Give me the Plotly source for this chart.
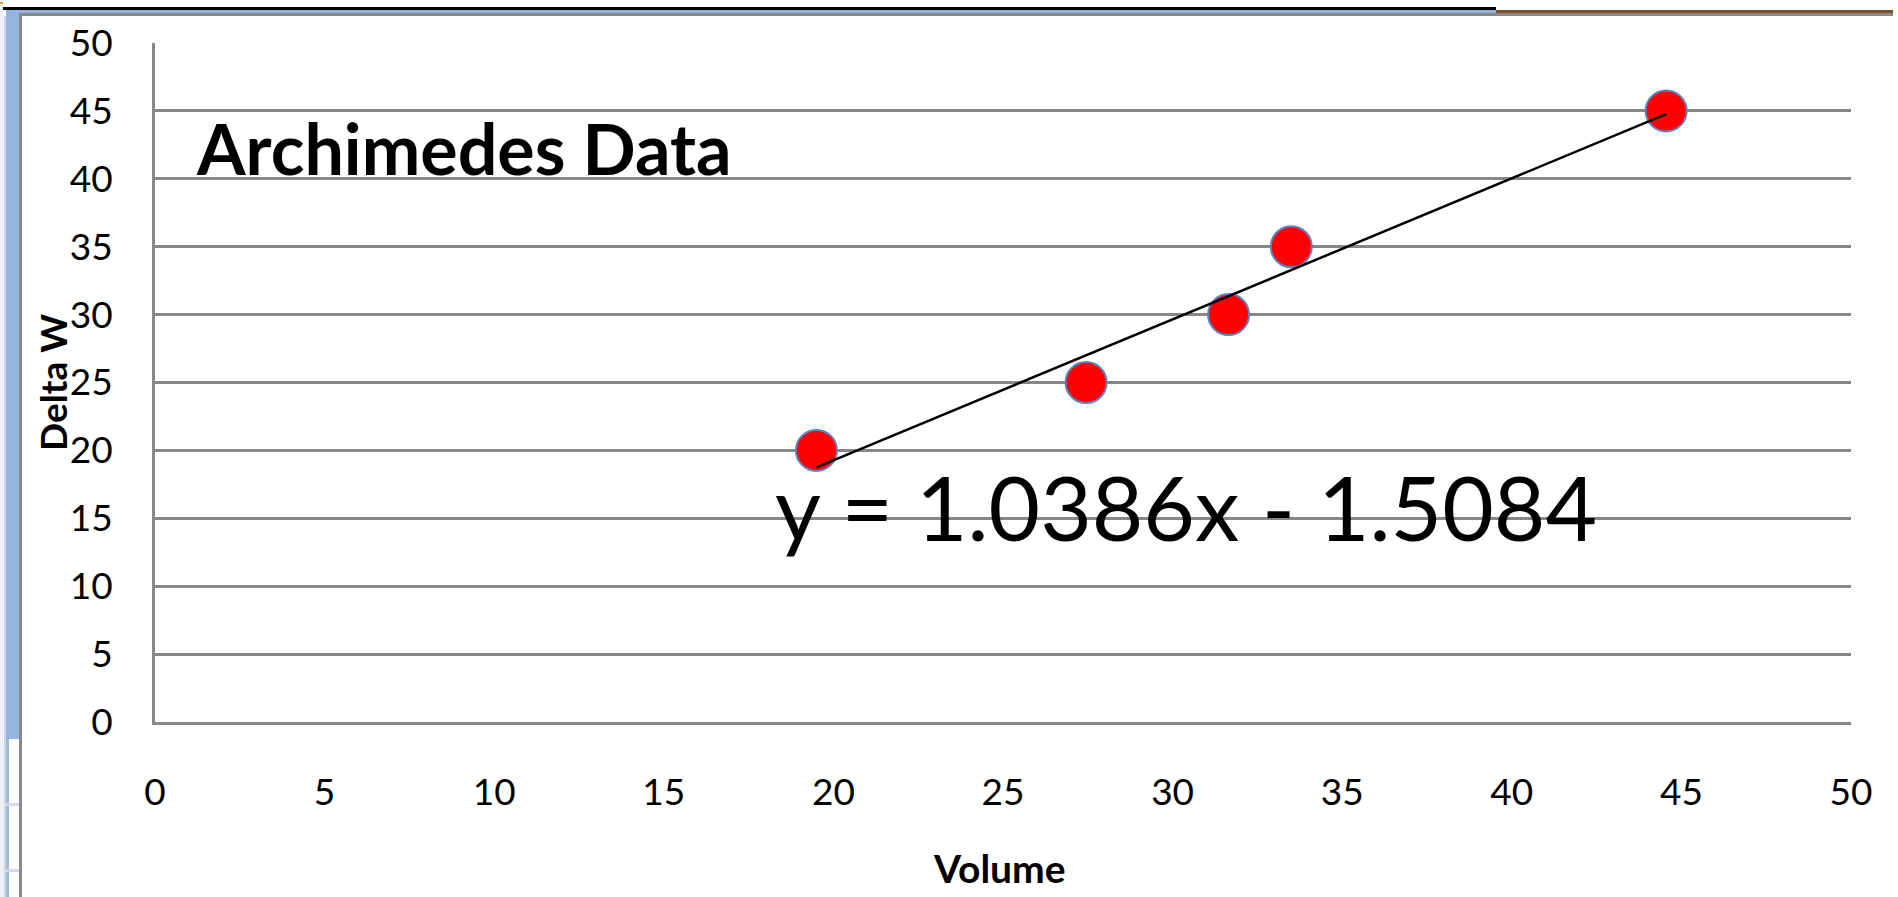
import plotly.graph_objects as go

# ---- data ----
volume = [19.5, 27.45, 31.65, 33.5, 44.55]
delta_w = [20, 25, 30, 35, 45]
slope = 1.0386
intercept = -1.5084
equation_text = "y = 1.0386x - 1.5084"
chart_title = "Archimedes Data"
x_title = "Volume"
y_title = "Delta W"
tick_vals = [0, 5, 10, 15, 20, 25, 30, 35, 40, 45, 50]

# ---- layout geometry (pixels) ----
W, H = 1898, 897
L, R, T, B = 155, 1851, 43, 722


def px(x):
    return (x - L) / (R - L)


def py(y):
    return (B - y) / (B - T)


x_fit = [min(volume), max(volume)]
y_fit = [slope * v + intercept for v in x_fit]

fig = go.Figure()
fig.add_trace(go.Scatter(
    x=volume, y=delta_w, mode="markers",
    marker=dict(size=41, color="#FF0000", line=dict(color="#5B84C0", width=2)),
    showlegend=False, hoverinfo="x+y"))
fig.add_trace(go.Scatter(
    x=x_fit, y=y_fit, mode="lines",
    line=dict(color="#000000", width=2.5),
    showlegend=False, hoverinfo="skip"))

font_main = "Lato, 'Open Sans', sans-serif"
grid_col = "#878787"

fig.update_xaxes(range=[0, 50], tickvals=tick_vals, showgrid=False, zeroline=False,
                 showline=True, linecolor=grid_col, linewidth=3, ticks="",
                 ticklabelstandoff=36,
                 tickfont=dict(family=font_main, size=37, color="#000000"))
fig.update_yaxes(range=[0, 50], tickvals=tick_vals, showgrid=True, gridcolor=grid_col,
                 gridwidth=3, zeroline=False, showline=True, linecolor=grid_col,
                 linewidth=3, ticks="", ticklabelstandoff=32,
                 tickfont=dict(family=font_main, size=37, color="#000000"))

annotations = [
    dict(x=px(194), y=py(148), xref="paper", yref="paper", text="<b>" + chart_title + "</b>",
         showarrow=False, xanchor="left", yanchor="middle",
         font=dict(family=font_main, size=70, color="#000000")),
    dict(x=px(773), y=py(506), xref="paper", yref="paper", text=equation_text,
         showarrow=False, xanchor="left", yanchor="middle",
         font=dict(family=font_main, size=89, color="#000000")),
    dict(x=px(999), y=py(868), xref="paper", yref="paper", text="<b>" + x_title + "</b>",
         showarrow=False, xanchor="center", yanchor="middle",
         font=dict(family=font_main, size=39, color="#000000")),
    dict(x=px(52), y=py(383), xref="paper", yref="paper", text="<b>" + y_title + "</b>",
         showarrow=False, xanchor="center", yanchor="middle", textangle=-90,
         font=dict(family=font_main, size=37, color="#000000")),
]


def rect(x0, y0, x1, y1, color):
    return dict(type="rect", xref="paper", yref="paper",
                x0=px(x0), x1=px(x1), y0=py(y1), y1=py(y0),
                fillcolor=color, line=dict(width=0), layer="above")


shapes = [
    rect(0, 0, 4, 897, "#EEF2F8"),
    rect(4, 16, 6, 897, "#C9D6E8"),
    rect(6, 9, 19, 739, "#93B4E0"),
    rect(6, 739, 9, 897, "#A3B9D6"),
    rect(4, 803, 19, 806, "#D0DAE8"),
    rect(4, 869, 19, 872, "#D0DAE8"),
    rect(0, 2, 3, 4, "#F0A040"),
    rect(3, 7, 1496, 10, "#000000"),
    rect(6, 10, 1496, 13, "#93B4E0"),
    rect(1496, 10, 1893, 13, "#7B5127"),
    rect(19, 13, 1893, 16, "#898989"),
    rect(19, 13, 22, 897, "#898989"),
]

fig.update_layout(
    width=W, height=H,
    margin=dict(l=L, r=W - R, t=T, b=H - B, autoexpand=False),
    paper_bgcolor="#FFFFFF", plot_bgcolor="#FFFFFF",
    annotations=annotations, shapes=shapes,
    font=dict(family=font_main),
)

fig.write_html("out.html", config={"displayModeBar": False},
               post_script="document.body.style.margin='0px';document.body.style.overflow='hidden';")
